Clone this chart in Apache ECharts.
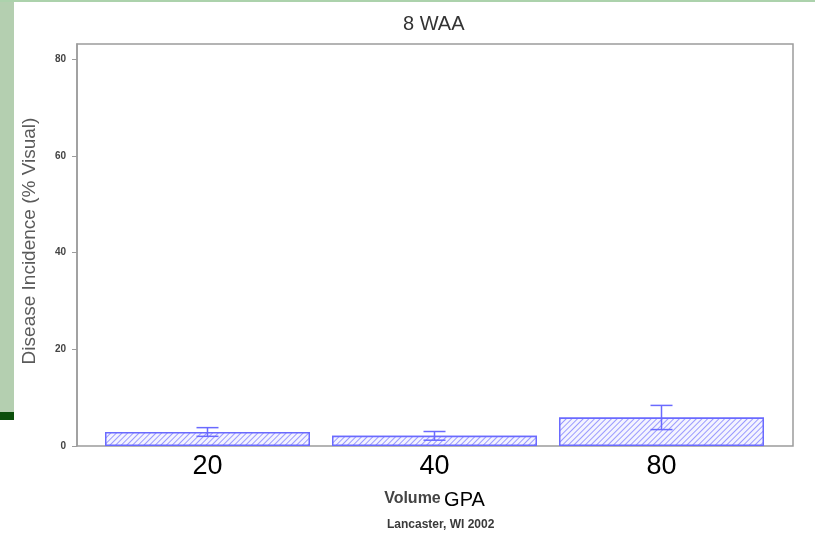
<!DOCTYPE html>
<html>
<head>
<meta charset="utf-8">
<script src="https://cdn.jsdelivr.net/npm/echarts@6/dist/echarts.min.js"></script>
<style>html,body{margin:0;padding:0;background:#fff}#c{width:815px;height:536px}</style>
</head>
<body>
<div id="c"></div>
<script>
const categories = ['20', '40', '80'];
const incidence = [2.9, 2.1, 5.9];
const errorSize = [0.9, 0.9, 2.5];
const yTicks = [0, 20, 40, 60, 80];
const titleText = '8 WAA';
const yName = 'Disease Incidence (% Visual)';
const footer = 'Lancaster, WI 2002';

const YMAX = 83.2;
const blue = '#6a6aff';
const errData = categories.map((c, i) => [i, incidence[i] - errorSize[i], incidence[i] + errorSize[i]]);

const chart = echarts.init(document.getElementById('c'));
chart.setOption({
  backgroundColor: '#fff',
  animation: false,
  title: [
    { text: titleText, left: 398, top: 9, textStyle: { fontFamily: 'Liberation Sans, Arial', fontSize: 20, fontWeight: 'normal', color: '#333' } },
    { text: footer, left: 382, top: 514, textStyle: { fontFamily: 'Liberation Sans, Arial', fontSize: 12, fontWeight: 'bold', color: '#3a3a3a' } }
  ],
  graphic: [
    { type: 'rect', left: 0, top: 0, shape: { width: 14, height: 412 }, style: { fill: '#b4cfb0' }, silent: true },
    { type: 'rect', left: 0, top: 412, shape: { width: 14, height: 8 }, style: { fill: '#0b4f0b' }, silent: true },
    { type: 'rect', left: 0, top: 0, shape: { width: 815, height: 2 }, style: { fill: '#acd2ac' }, silent: true }
  ],
  grid: [
    { left: 77, top: 44, width: 716, height: 402, show: true, borderColor: '#9c9c9c', borderWidth: 1.5, backgroundColor: '#fff' },
    { left: 94, top: 44, width: 681, height: 402 }
  ],
  xAxis: [
    { gridIndex: 0, type: 'category', data: categories, show: false },
    {
      gridIndex: 1, type: 'category', data: categories,
      axisLine: { show: false }, axisTick: { show: false },
      axisLabel: { margin: 7, fontFamily: 'Liberation Sans, Arial', fontSize: 27, color: '#000' },
      name: '{a|Volume} {b|GPA}', nameLocation: 'middle', nameGap: 44,
      nameTextStyle: {
        rich: {
          a: { fontFamily: 'Liberation Sans, Arial', fontSize: 16, fontWeight: 'bold', color: '#444', padding: [0, 0, 3, 0] },
          b: { fontFamily: 'Liberation Sans, Arial', fontSize: 20, color: '#000' }
        }
      }
    }
  ],
  yAxis: [
    {
      gridIndex: 0, type: 'value', min: 0, max: YMAX,
      splitLine: { show: false },
      axisLine: { show: true, lineStyle: { color: '#9c9c9c', width: 1.5 } },
      axisTick: { show: true, length: 5, customValues: yTicks, lineStyle: { color: '#9c9c9c' } },
      axisLabel: { customValues: yTicks, margin: 11, fontFamily: 'Liberation Sans, Arial', fontSize: 10, fontWeight: 'bold', color: '#444' },
      name: yName, nameLocation: 'middle', nameGap: 38,
      nameTextStyle: { fontFamily: 'Liberation Sans, Arial', fontSize: 19, color: '#5a5a5a', padding: [0, 0, 0, 8] }
    },
    { gridIndex: 1, type: 'value', min: 0, max: YMAX, show: false, splitLine: { show: false } }
  ],
  series: [
    {
      type: 'bar', xAxisIndex: 1, yAxisIndex: 1, data: incidence, barWidth: 205, z: 2,
      itemStyle: {
        color: '#eeeeff', borderColor: blue, borderWidth: 1.5,
        decal: { symbol: 'rect', symbolSize: 1, dashArrayX: [1, 0], dashArrayY: [1, 3], rotation: -Math.PI / 4, color: '#9a9aff', backgroundColor: '#f4f4ff' }
      }
    },
    {
      type: 'custom', xAxisIndex: 1, yAxisIndex: 1, data: errData, z: 10,
      renderItem: function (params, api) {
        const x = api.value(0);
        const lo = api.coord([x, api.value(1)]);
        const hi = api.coord([x, api.value(2)]);
        const w = 11;
        const style = { stroke: blue, lineWidth: 1.5 };
        return {
          type: 'group',
          children: [
            { type: 'line', shape: { x1: hi[0], y1: hi[1], x2: lo[0], y2: lo[1] }, style },
            { type: 'line', shape: { x1: hi[0] - w, y1: hi[1], x2: hi[0] + w, y2: hi[1] }, style },
            { type: 'line', shape: { x1: lo[0] - w, y1: lo[1], x2: lo[0] + w, y2: lo[1] }, style }
          ]
        };
      }
    }
  ]
});
</script>
</body>
</html>
